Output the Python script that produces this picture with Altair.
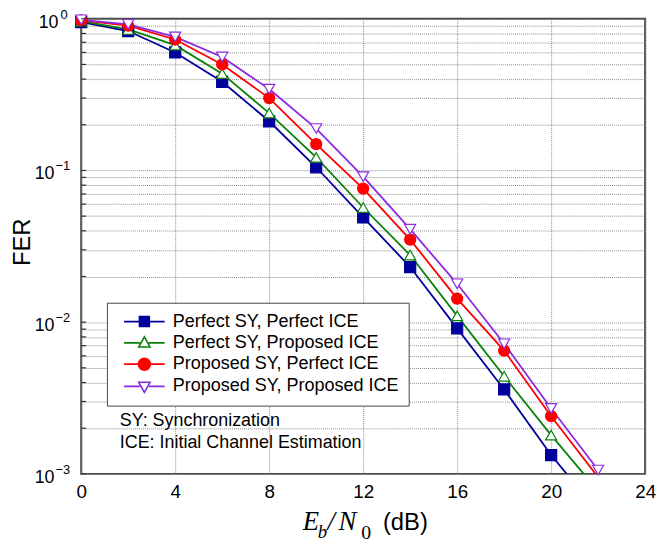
import altair as alt
import pandas as pd

# ---------------- data ----------------
ebn0 = [0, 2, 4, 6, 8, 10, 12, 14, 16, 18, 20, 22]
fer_perfect_sy_perfect_ice = [0.95, 0.83, 0.60, 0.384, 0.211, 0.105, 0.049, 0.0231, 0.0091, 0.0036, 0.00133, 0.00056]
fer_perfect_sy_proposed_ice = [0.965, 0.85, 0.67, 0.435, 0.239, 0.122, 0.057, 0.0277, 0.011, 0.0044, 0.0018, 0.00077]
fer_proposed_sy_perfect_ice = [0.975, 0.90, 0.73, 0.50, 0.30, 0.149, 0.076, 0.035, 0.0143, 0.0065, 0.0024, 0.00095]
fer_proposed_sy_proposed_ice = [0.985, 0.92, 0.76, 0.56, 0.344, 0.189, 0.091, 0.041, 0.0179, 0.0072, 0.0027, 0.00106]

series_names = [
    "Perfect SY, Perfect ICE",
    "Perfect SY, Proposed ICE",
    "Proposed SY, Perfect ICE",
    "Proposed SY, Proposed ICE",
]
series_colors = ["#00009c", "#0a820a", "#ff0000", "#8a2be2"]
marker_fill = ["#00009c", "#ffffff", "#ff0000", "#ffffff"]
marker_shapes = ["square", "triangle-up", "circle", "triangle-down"]
legend_paths = [
    "M-4.1,0H-1M1,0H4.1M-1,-1H1V1H-1Z",
    "M-4.1,0H-0.9M0.9,0H4.1M0,-1.2L1.15,0.85H-1.15Z",
    "M-4.1,0H-1.2M1.2,0H4.1M1.2,0A1.2,1.2 0 1,1 -1.2,0A1.2,1.2 0 1,1 1.2,0Z",
    "M-4.1,0H-0.9M0.9,0H4.1M0,1.2L1.15,-0.85H-1.15Z",
]

x_ticks = [0, 4, 8, 12, 16, 20, 24]
y_decades = [1, 0.1, 0.01, 0.001]
y_exponents = ["0", "\u22121", "\u22122", "\u22123"]
y_minor = [m * d for d in [0.001, 0.01, 0.1] for m in range(1, 10)] + [1.0]
notes = ["SY: Synchronization", "ICE: Initial Channel Estimation"]

# ---------------- tables ----------------
rows = []
for name, vals in zip(series_names, [fer_perfect_sy_perfect_ice, fer_perfect_sy_proposed_ice,
                                     fer_proposed_sy_perfect_ice, fer_proposed_sy_proposed_ice]):
    for xv, yv in zip(ebn0, vals):
        rows.append({"ebn0": xv, "fer": yv, "series": name})
df = pd.DataFrame(rows)
dec_df = pd.DataFrame({"fer": y_decades, "exp": y_exponents})
minor_df = pd.DataFrame({"fer": y_minor})

W, H = 570, 460
SANS = "Liberation Sans"
SERIF = "Liberation Serif"

x_scale = alt.Scale(domain=[0, 24], nice=False, zero=False)
y_scale = alt.Scale(type="log", domain=[0.001, 1], nice=False)
x_axis = alt.Axis(values=x_ticks, title=None, labelFontSize=19, labelFont=SANS, labelColor="black",
                  tickSize=0, labelPadding=9, grid=True, gridDash=[1, 1], gridColor="#8c8c8c",
                  gridWidth=1, domain=False, labelFlush=False)
y_axis = alt.Axis(values=y_minor, labels=False, ticks=False, title=None, grid=True,
                  gridDash=[1, 1], gridColor="#8c8c8c", gridWidth=1, domain=False)

X = alt.X("ebn0:Q", scale=x_scale, axis=x_axis)
Y = alt.Y("fer:Q", scale=y_scale, axis=y_axis)

lines = alt.Chart(df).mark_line(strokeWidth=1.8, clip=True).encode(
    x=X, y=Y,
    color=alt.Color("series:N", scale=alt.Scale(domain=series_names, range=series_colors), legend=None),
    order="ebn0:Q",
)

points = alt.Chart(df).transform_filter("datum.fer >= 0.001").mark_point(
    opacity=1, size=125, strokeWidth=1.2
).encode(
    x=X, y=Y,
    shape=alt.Shape("series:N", scale=alt.Scale(domain=series_names, range=marker_shapes), legend=None),
    stroke=alt.Stroke("series:N", scale=alt.Scale(domain=series_names, range=series_colors), legend=None),
    fill=alt.Fill("series:N", scale=alt.Scale(domain=series_names, range=marker_fill), legend=None),
)

leg = alt.Legend(orient="none", legendX=26, legendY=287, title=None, padding=10,
                 strokeColor="#444444", fillColor="#ffffff", labelFont=SANS, labelFontSize=18.2,
                 labelColor="black", symbolSize=100, symbolStrokeWidth=1.6, symbolOffset=18.75,
                 labelOffset=19.5, rowPadding=2.5, labelLimit=400)

legend_layer = alt.Chart(df).transform_filter("false").mark_point(opacity=1).encode(
    x=X, y=Y,
    shape=alt.Shape("series:N", scale=alt.Scale(domain=series_names, range=legend_paths), legend=leg),
    stroke=alt.Stroke("series:N", scale=alt.Scale(domain=series_names, range=series_colors), legend=leg),
    fill=alt.Fill("series:N", scale=alt.Scale(domain=series_names, range=marker_fill), legend=leg),
)

inner_ticks = alt.Chart(minor_df).mark_rule(color="#333333", strokeWidth=1.2).encode(
    y=Y, x=alt.value(0), x2=alt.value(5)
)

tens = alt.Chart(dec_df).transform_calculate(
    xo="length(datum.exp) == 1 ? -23 : -27"
).mark_text(text="10", align="right", baseline="middle", dy=4, fontSize=18, font=SANS, color="black").encode(
    y=Y, x=alt.X("xo:Q", scale=None, axis=None)
)
exps = alt.Chart(dec_df).transform_calculate(
    xo="length(datum.exp) == 1 ? -21 : -26"
).mark_text(align="left", baseline="middle", dy=-4, fontSize=13, font=SANS, color="black").encode(
    y=Y, x=alt.X("xo:Q", scale=None, axis=None), text="exp:N"
)

note_df = pd.DataFrame({"note": notes, "k": [0, 1]})
note_layer = alt.Chart(note_df).transform_calculate(
    ny="412 + 22 * datum.k"
).mark_text(align="left", baseline="alphabetic", fontSize=18.1, font=SANS, color="black").encode(
    x=alt.value(39), y=alt.Y("ny:Q", scale=None, axis=None), text="note:N"
)

def txt(s, x, y, size, font, style="normal"):
    return alt.Chart(pd.DataFrame({"t": [s]})).mark_text(
        align="left", baseline="alphabetic", fontSize=size, font=font, fontStyle=style, color="black"
    ).encode(x=alt.value(x), y=alt.value(y), text="t:N")

xtitle = [
    txt("E", 224, 517, 27, SERIF, "italic"),
    txt("b", 239, 525, 19, SERIF, "italic"),
    txt("/", 249, 517, 27, SERIF, "italic"),
    txt("N", 260, 517, 27, SERIF, "italic"),
    txt("0", 283, 526, 20, SERIF),
    txt("(dB)", 305, 517, 24, SANS),
]

ytitle = alt.Chart(pd.DataFrame({"t": ["FER"]})).mark_text(
    angle=270, align="center", baseline="middle", fontSize=24, font=SANS, color="black"
).encode(x=alt.value(-59), y=alt.value(226), text="t:N")

chart = alt.layer(
    lines, points, inner_ticks, tens, exps, note_layer, ytitle, *xtitle, legend_layer
).resolve_scale(
    shape="independent", fill="independent", stroke="independent", color="independent"
).properties(
    width=W, height=H,
    autosize=alt.AutoSizeParams(type="none"),
    padding={"left": 74, "top": 8, "right": 12, "bottom": 68},
).configure_view(
    stroke="#444444", strokeWidth=2
)

chart.save("out.html", embed_options={"renderer": "svg", "actions": False})
